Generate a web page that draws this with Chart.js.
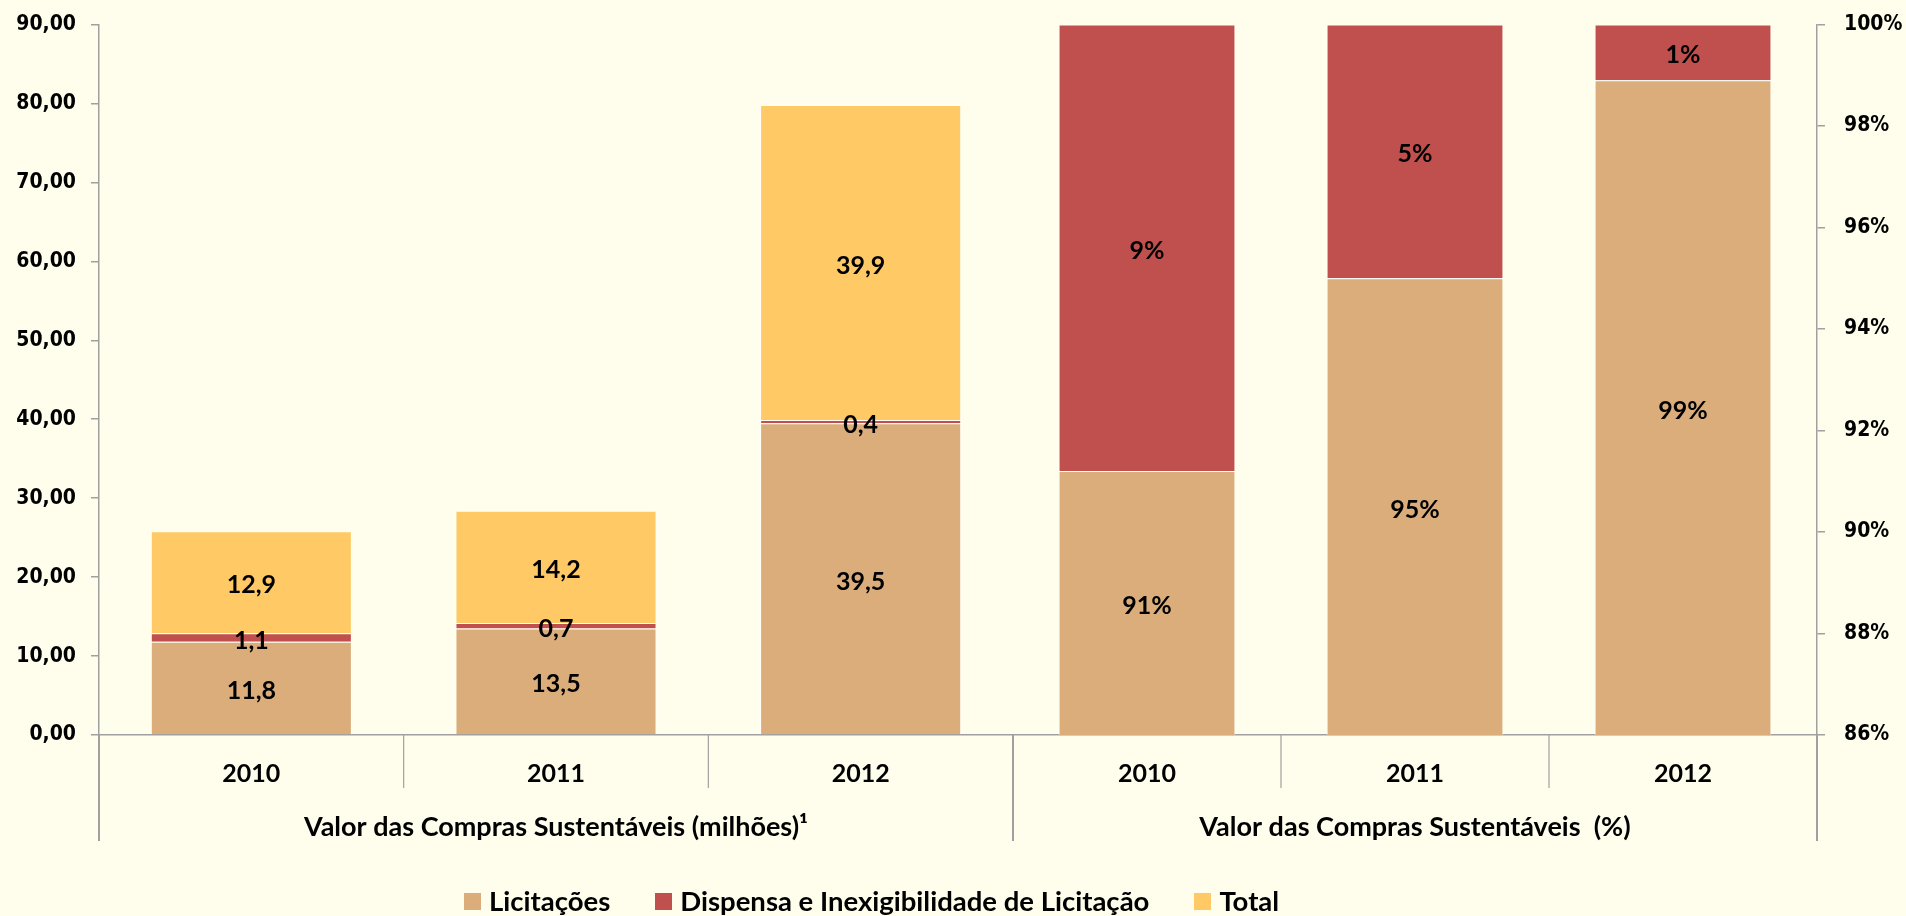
<!DOCTYPE html>
<html>
<head>
<meta charset="utf-8">
<script src="https://cdn.jsdelivr.net/npm/chart.js@4/dist/chart.umd.min.js"></script>
<style>
  body { margin: 0; background: #FFFEEC; }
  #wrap { position: relative; width: 1906px; height: 916px; background: #FFFEEC; }
  #wrap canvas { position: absolute; left: 0; top: 0; }
  #legend {
    position: absolute; left: 464px; top: 886px;
    display: flex; align-items: center;
    font: bold 27.5px Lato, sans-serif; color: #000; line-height: 30px;
  }
  .item { display: flex; align-items: center; margin-right: 45px; }
  .box { width: 17px; height: 17px; margin-right: 8px; }
</style>
</head>
<body>
<div id="wrap">
  <canvas id="leftChart" width="1906" height="916"></canvas>
  <canvas id="rightChart" width="1906" height="916"></canvas>
  <div id="legend"></div>
</div>
<script>
// data
const years = ["2010", "2011", "2012"];
const seriesNames = ["Licitações", "Dispensa e Inexigibilidade de Licitação", "Total"];
const seriesColors = ["#DBAD7B", "#C0504D", "#FFC965"];

// left part: values in millions
const licitacoesMilhoes = [11.8, 13.5, 39.5];
const dispensaMilhoes = [1.1, 0.7, 0.4];
const totalMilhoes = [12.9, 14.2, 39.9];

// right part: shares in %
const licitacoesPct = [91.2, 95.0, 98.9];
const dispensaPct = [8.8, 5.0, 1.1];

const leftTitle = "Valor das Compras Sustentáveis (milhões)¹";
const rightTitle = "Valor das Compras Sustentáveis  (%)";

const AXIS_GRAY = "#A0A0A0";
Chart.defaults.font.family = "Lato";
Chart.defaults.color = "#000";

// value labels centred in the visible part of each segment
const segmentLabels = {
  id: "segmentLabels",
  afterDatasetsDraw(chart, args, opts) {
    const { ctx, chartArea } = chart;
    ctx.save();
    ctx.font = "bold 25px Lato";
    ctx.fillStyle = "#000";
    ctx.textAlign = "center";
    ctx.textBaseline = "middle";
    chart.data.datasets.forEach((ds, di) => {
      const meta = chart.getDatasetMeta(di);
      meta.data.forEach((el, i) => {
        const p = el.getProps(["x", "y", "base"], true);
        const top = Math.max(Math.min(p.y, p.base), chartArea.top);
        const bot = Math.min(Math.max(p.y, p.base), chartArea.bottom);
        if (bot - top <= 0) return;
        ctx.fillText(opts.format(ds.data[i]), p.x, (top + bot) / 2 + 3);
      });
    });
    ctx.restore();
  },
};

// category dividers below the axis
const dividers = {
  id: "dividers",
  afterDraw(chart) {
    const { ctx } = chart;
    const x = chart.scales.x;
    const n = chart.data.labels.length;
    const step = x.getPixelForValue(1) - x.getPixelForValue(0);
    const y0 = x.top;
    ctx.save();
    ctx.strokeStyle = AXIS_GRAY;
    for (let i = 0; i <= n; i++) {
      const px = x.getPixelForValue(i) - step / 2;
      const edge = i === 0 || i === n;
      ctx.lineWidth = edge ? 2 : 1.2;
      ctx.beginPath();
      ctx.moveTo(px, y0);
      ctx.lineTo(px, y0 + (edge ? 106 : 53));
      ctx.stroke();
    }
    ctx.restore();
  },
};

function xAxis(title) {
  return {
    stacked: true,
    grid: { display: false, drawTicks: false },
    border: { display: true, color: AXIS_GRAY, width: 1.5 },
    ticks: { padding: 24, font: { size: 25, weight: "bold" }, color: "#000" },
    title: {
      display: true,
      text: title,
      font: { size: 27, weight: "bold" },
      color: "#000",
      padding: { top: 0, bottom: 73 },
    },
    afterFit: (s) => { s.height = 181; },
  };
}

function yFont() {
  return { family: "'DejaVu Sans Condensed', 'DejaVu Sans'", size: 21, weight: "bold" };
}

// fixed axis width, no extra label padding so the plot spans 24.5..735
function fixY(width) {
  return (s) => {
    s.width = width;
    s.paddingTop = 0;
    s.paddingBottom = 0;
  };
}

function makeDatasets(values) {
  return values.map((data, k) => ({
    label: seriesNames[k],
    data: data,
    backgroundColor: seriesColors[k],
    borderColor: "rgba(255,255,255,0.75)",
    borderWidth: 1,
    categoryPercentage: 1,
    barPercentage: 0.66,
    clip: 0,
  }));
}

new Chart(document.getElementById("leftChart"), {
  type: "bar",
  data: {
    labels: years,
    datasets: makeDatasets([licitacoesMilhoes, dispensaMilhoes, totalMilhoes]),
  },
  options: {
    responsive: false,
    animation: false,
    layout: { padding: { top: 24.5, right: 893, left: 0, bottom: 0 } },
    plugins: {
      legend: { display: false },
      tooltip: { enabled: false },
      segmentLabels: { format: (v) => v.toFixed(1).replace(".", ",") },
    },
    scales: {
      x: xAxis(leftTitle),
      y: {
        stacked: true,
        min: 0,
        max: 90,
        ticks: {
          stepSize: 10,
          padding: 15,
          font: yFont(),
          color: "#000",
          callback: (v) => v.toFixed(2).replace(".", ","),
        },
        grid: { drawOnChartArea: false, drawTicks: true, tickLength: 8, color: AXIS_GRAY, lineWidth: 1.5 },
        border: { display: true, color: AXIS_GRAY, width: 1.5 },
        afterFit: fixY(99),
      },
    },
  },
  plugins: [segmentLabels, dividers],
});

new Chart(document.getElementById("rightChart"), {
  type: "bar",
  data: {
    labels: years,
    datasets: makeDatasets([licitacoesPct, dispensaPct]),
  },
  options: {
    responsive: false,
    animation: false,
    layout: { padding: { top: 24.5, left: 1013, right: 0, bottom: 0 } },
    plugins: {
      legend: { display: false },
      tooltip: { enabled: false },
      segmentLabels: { format: (v) => Math.round(v) + "%" },
    },
    scales: {
      x: xAxis(rightTitle),
      y: {
        position: "right",
        stacked: true,
        min: 86,
        max: 100,
        ticks: {
          stepSize: 2,
          padding: 19,
          font: yFont(),
          color: "#000",
          callback: (v) => v + "%",
        },
        grid: { drawOnChartArea: false, drawTicks: true, tickLength: 8, color: AXIS_GRAY, lineWidth: 1.5 },
        border: { display: true, color: AXIS_GRAY, width: 1.5 },
        afterFit: fixY(89),
      },
    },
  },
  plugins: [segmentLabels, dividers],
});

// shared legend
const legend = document.getElementById("legend");
seriesNames.forEach((name, k) => {
  const item = document.createElement("div");
  item.className = "item";
  item.innerHTML = `<span class="box" style="background:${seriesColors[k]}"></span><span>${name}</span>`;
  legend.appendChild(item);
});
</script>
</body>
</html>
